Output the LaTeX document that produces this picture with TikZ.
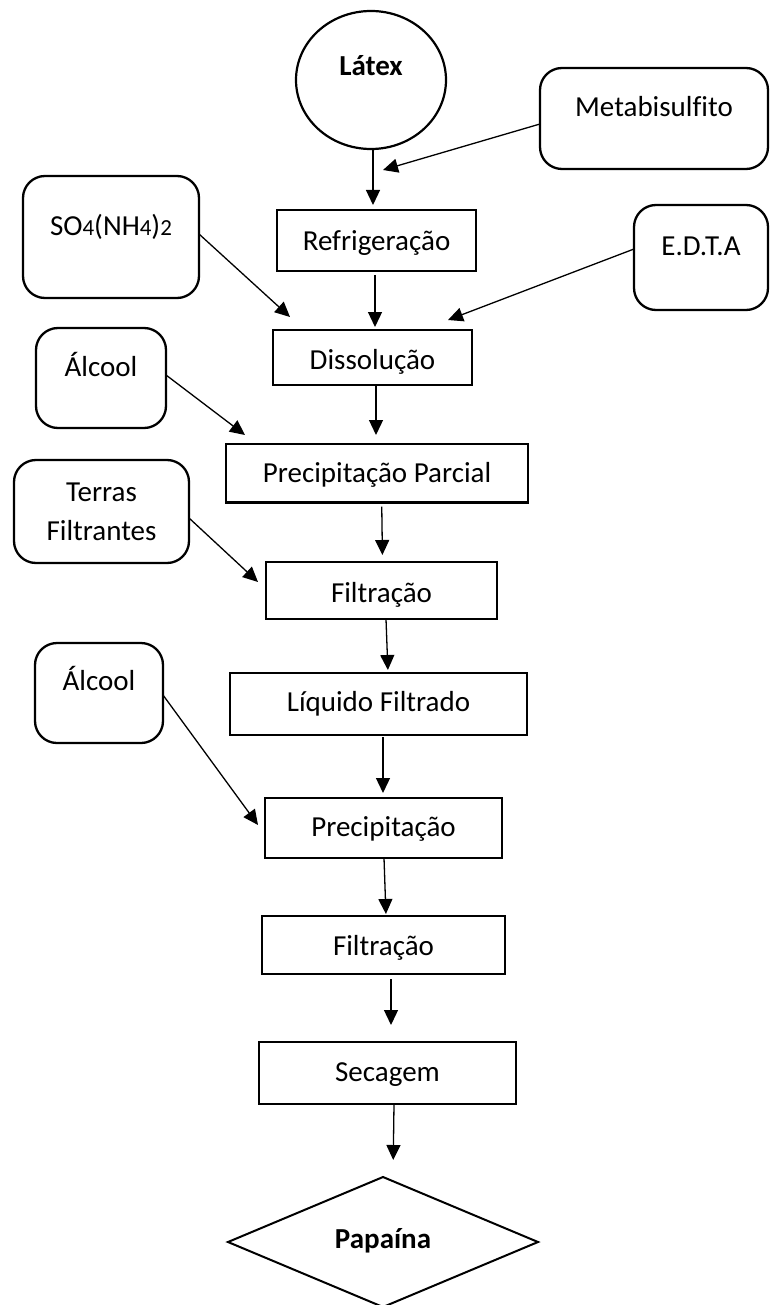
\documentclass[tikz,border=0pt]{standalone}
\usepackage{fontspec}
\setmainfont{Carlito}[Ligatures=NoCommon]
\usetikzlibrary{arrows.meta,shapes.geometric}
\begin{document}
\begin{tikzpicture}[x=1pt,y=-1pt,
  every node/.style={font=\fontsize{29}{38.7}\selectfont, inner sep=0pt, outer sep=0pt},
  pbox/.style={draw, line width=2.6pt, rectangle, anchor=north west},
  rbox/.style={draw, line width=2.3pt, rectangle, rounded corners=22pt, anchor=north west},
  arr/.style={line width=1.3pt, -{Triangle[length=15pt,width=14pt]}}]
\useasboundingbox (0,0) rectangle (770,1305);

\node[ellipse, draw, line width=2.2pt, minimum width=150pt, minimum height=138pt,
      text height=20pt, text depth=28pt, font=\fontsize{29}{38.7}\selectfont\bfseries] (latex) at (371,80) {Látex};
\node[rbox, minimum width=228pt, text height=49pt, text depth=52pt] (meta) at (540,68) {Metabisulfito};
\node[pbox, minimum width=199pt, text height=41pt, text depth=20pt] (refr) at (277,210) {Refrigeração};
\node[rbox, minimum width=176pt, text height=60pt, text depth=62pt] (so4) at (23,176)
  {SO{\fontsize{23}{28}\selectfont 4}(NH{\fontsize{23}{28}\selectfont 4}){\fontsize{23}{28}\selectfont 2}};
\node[rbox, minimum width=134pt, text height=51pt, text depth=54pt] (edta) at (634,205) {E.D.T.A};
\node[pbox, minimum width=199pt, text height=39pt, text depth=16pt] (diss) at (273,330) {Dissolução};
\node[rbox, minimum width=130pt, text height=48pt, text depth=52pt] (alc1) at (36,328) {Álcool};
\node[pbox, minimum width=302pt, text height=38.7pt, text depth=20pt] (pp) at (226,444) {Precipitação Parcial};
\node[rbox, minimum width=175pt, minimum height=103pt, align=center] (terras) at (14,460) {Terras\\Filtrantes};
\node[pbox, minimum width=231pt, text height=40pt, text depth=17pt] (filt1) at (266,562) {Filtração};
\node[pbox, minimum width=297pt, text height=38.7pt, text depth=23.3pt] (liq) at (230,673) {Líquido Filtrado};
\node[rbox, minimum width=128pt, text height=47.7pt, text depth=52.3pt] (alc2) at (35,643) {Álcool};
\node[pbox, minimum width=237pt, text height=38pt, text depth=22pt] (prec) at (265,798) {Precipitação};
\node[pbox, minimum width=243pt, text height=39.7pt, text depth=18.3pt] (filt2) at (262,916) {Filtração};
\node[pbox, minimum width=257pt, text height=39.7pt, text depth=22.3pt] (sec) at (259,1042) {Secagem};
\node[diamond, draw, line width=2pt, minimum width=310pt, minimum height=130pt,
      text height=20pt, text depth=8pt, font=\fontsize{29}{38.7}\selectfont\bfseries] (pap) at (383,1242) {Papaína};

\coordinate (t1) at (383,170);
\coordinate (t2) at (290,317);
\coordinate (t3) at (448,320);
\coordinate (t4) at (245,435);
\coordinate (t5) at (258,582);
\coordinate (t6) at (258,825);

\draw[arr] ([yshift=-5.5pt]meta.west) -- (t1);
\draw[arr] ([yshift=3pt]so4.east) -- (t2);
\draw[arr] ([yshift=8.5pt]edta.west) -- (t3);
\draw[arr] ([yshift=3pt]alc1.east) -- (t4);
\draw[arr] ([yshift=-6.5pt]terras.east) -- (t5);
\draw[arr] ([yshift=-2pt]alc2.east) -- (t6);

\draw[arr, shorten >=5pt] ([xshift=2pt]latex.south) -- ([xshift=-3.5pt]refr.north);
\draw[arr, shorten <=4pt, shorten >=3pt] ([xshift=-1.5pt]refr.south) -- ([xshift=2.5pt]diss.north);
\draw[arr, shorten <=1pt, shorten >=9pt] ([xshift=3.5pt]diss.south) -- ([xshift=-1pt]pp.north);
\draw[arr, shorten <=4pt, shorten >=7pt] ([xshift=4.7pt]pp.south) -- ([xshift=1pt]filt1.north);
\draw[arr, shorten <=1pt, shorten >=3pt] ([xshift=4.5pt]filt1.south) -- ([xshift=9.5pt]liq.north);
\draw[arr, shorten <=2pt, shorten >=5pt] ([xshift=4.5pt]liq.south) -- ([xshift=-0.5pt]prec.north);
\draw[arr, shorten <=1pt, shorten >=2pt] ([xshift=0.5pt]prec.south) -- ([xshift=2.5pt]filt2.north);
\draw[arr, shorten <=5pt, shorten >=17pt] ([xshift=7.5pt]filt2.south) -- ([xshift=3.5pt]sec.north);
\draw[arr, shorten <=1pt, shorten >=17pt] ([xshift=6.5pt]sec.south) -- ([xshift=10pt]pap.north);
\end{tikzpicture}
\end{document}
